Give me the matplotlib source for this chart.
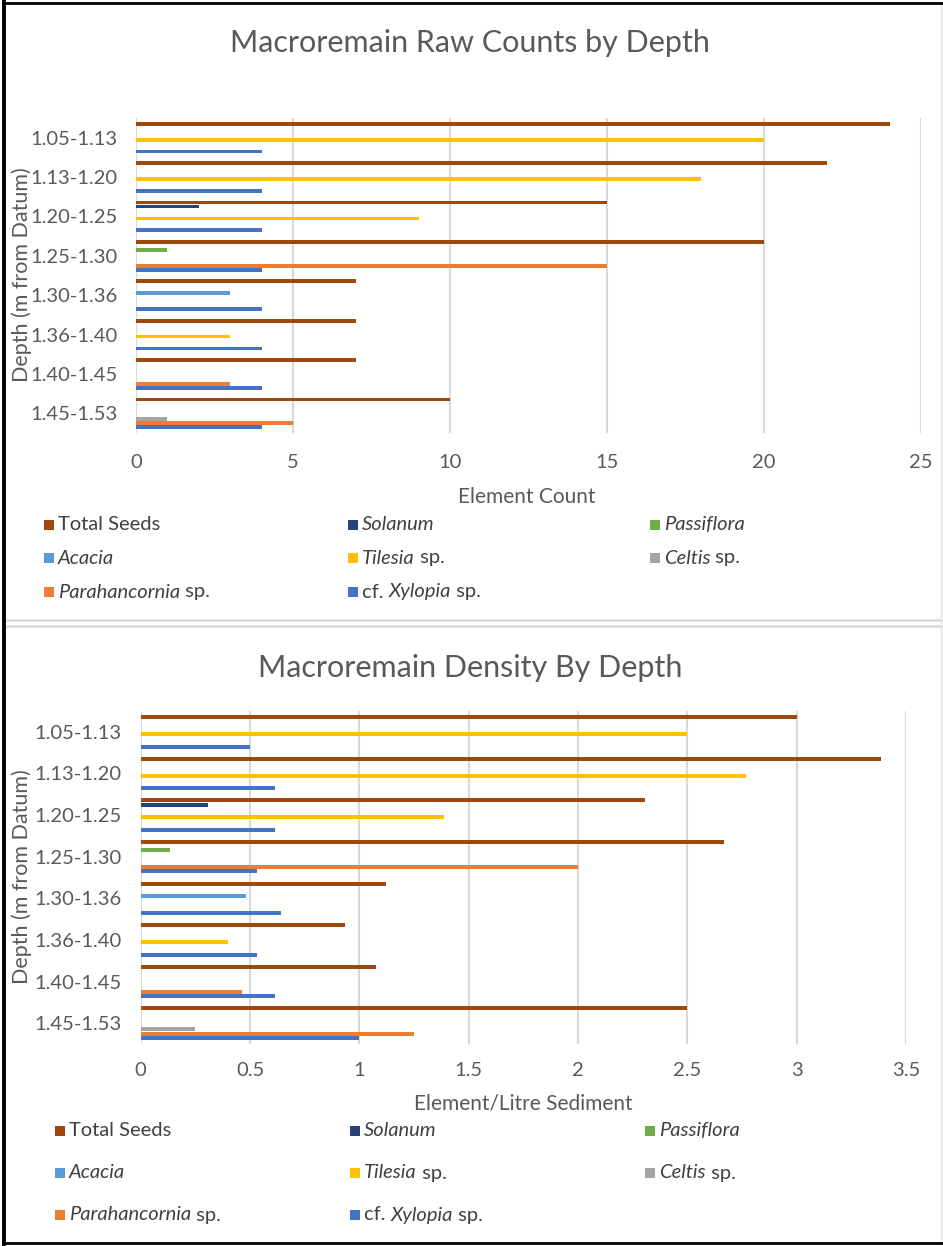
import matplotlib
matplotlib.use("Agg")
import matplotlib.pyplot as plt
from matplotlib.patches import Rectangle
from matplotlib.lines import Line2D

# ---------------------------------------------------------------- data
depths = ["1.05-1.13", "1.13-1.20", "1.20-1.25", "1.25-1.30",
          "1.30-1.36", "1.36-1.40", "1.40-1.45", "1.45-1.53"]

series_keys = ["total", "solanum", "passiflora", "acacia",
               "tilesia", "celtis", "parahancornia", "xylopia"]

# legend text as (text, italic) runs
legend_runs = {
    "total": [("Total Seeds", False)],
    "solanum": [("Solanum", True)],
    "passiflora": [("Passiflora", True)],
    "acacia": [("Acacia", True)],
    "tilesia": [("Tilesia", True), (" sp.", False)],
    "celtis": [("Celtis", True), (" sp.", False)],
    "parahancornia": [("Parahancornia", True), (" sp.", False)],
    "xylopia": [("cf. ", False), ("Xylopia", True), (" sp.", False)],
}

colors = {
    "total": "#9E480E",
    "solanum": "#264478",
    "passiflora": "#70AD47",
    "acacia": "#5B9BD5",
    "tilesia": "#FFC000",
    "celtis": "#A5A5A5",
    "parahancornia": "#ED7D31",
    "xylopia": "#4472C4",
}

# raw element counts per depth interval
count_total = [24, 22, 15, 20, 7, 7, 7, 10]
count_solanum = [0, 0, 2, 0, 0, 0, 0, 0]
count_passiflora = [0, 0, 0, 1, 0, 0, 0, 0]
count_acacia = [0, 0, 0, 0, 3, 0, 0, 0]
count_tilesia = [20, 18, 9, 0, 0, 3, 0, 0]
count_celtis = [0, 0, 0, 0, 0, 0, 0, 1]
count_parahancornia = [0, 0, 0, 15, 0, 0, 3, 5]
count_xylopia = [4, 4, 4, 4, 4, 4, 4, 4]

# elements per litre of sediment
dens_total = [3.0, 3.385, 2.308, 2.667, 1.12, 0.933, 1.077, 2.5]
dens_solanum = [0, 0, 0.308, 0, 0, 0, 0, 0]
dens_passiflora = [0, 0, 0, 0.133, 0, 0, 0, 0]
dens_acacia = [0, 0, 0, 0, 0.48, 0, 0, 0]
dens_tilesia = [2.5, 2.769, 1.385, 0, 0, 0.4, 0, 0]
dens_celtis = [0, 0, 0, 0, 0, 0, 0, 0.25]
dens_parahancornia = [0, 0, 0, 2.0, 0, 0, 0.462, 1.25]
dens_xylopia = [0.5, 0.615, 0.615, 0.533, 0.64, 0.533, 0.615, 1.0]

count_ticks = [0, 5, 10, 15, 20, 25]
count_ticklabels = ["0", "5", "10", "15", "20", "25"]
dens_ticks = [0, 0.5, 1, 1.5, 2, 2.5, 3, 3.5]
dens_ticklabels = ["0", "0.5", "1", "1.5", "2", "2.5", "3", "3.5"]

counts = dict(zip(series_keys, [count_total, count_solanum, count_passiflora,
                                count_acacia, count_tilesia, count_celtis,
                                count_parahancornia, count_xylopia]))
density = dict(zip(series_keys, [dens_total, dens_solanum, dens_passiflora,
                                 dens_acacia, dens_tilesia, dens_celtis,
                                 dens_parahancornia, dens_xylopia]))

# ---------------------------------------------------------------- style
FONT = "Lato"
plt.rcParams["font.family"] = [FONT, "DejaVu Sans"]
TXT = "#595959"
GRID = "#D9D9D9"

W, H = 943, 1246
fig = plt.figure(figsize=(W / 100, H / 100), dpi=100)
fig.patch.set_facecolor("white")


def fx(px):
    return px / W


def fy(py):
    return 1 - py / H


def add_axes_px(left, top, right, bottom):
    return fig.add_axes([fx(left), fy(bottom), (right - left) / W, (bottom - top) / H])


def draw_chart(ax, data, ticks, ticklabels, ylab_pad, xlab_pad):
    n = len(series_keys)
    slot = 0.101
    for j, key in enumerate(series_keys):
        ypos = [i + (j - (n - 1) / 2) * slot for i in range(len(depths))]
        ax.barh(ypos, data[key], height=slot * 0.95, color=colors[key],
                linewidth=0, zorder=3)
    ax.set_ylim(len(depths) - 0.5, -0.5)
    ax.set_xlim(ticks[0], ticks[-1])
    ax.set_yticks(range(len(depths)))
    ax.set_yticklabels(depths)
    ax.set_xticks(ticks)
    ax.set_xticklabels(ticklabels)
    ax.tick_params(axis="both", length=0, labelsize=14.5, labelcolor=TXT)
    ax.tick_params(axis="y", pad=ylab_pad)
    ax.tick_params(axis="x", pad=xlab_pad)
    for s in ax.spines.values():
        s.set_visible(False)
    ax.grid(axis="x", color=GRID, linewidth=1.5, zorder=0)
    ax.set_axisbelow(True)


renderer = fig.canvas.get_renderer()


def draw_runs(x, y, runs, size=14.5):
    for text, italic in runs:
        t = fig.text(fx(x), fy(y), text, fontsize=size, color="#404040",
                     style="italic" if italic else "normal",
                     ha="left", va="center", family=[FONT, "DejaVu Sans"])
        bb = t.get_window_extent(renderer=renderer)
        x += bb.width


def draw_legend(col_x, row_y):
    for k, key in enumerate(series_keys):
        r, c = divmod(k, 3)
        x0, y0 = col_x[c], row_y[r]
        fig.patches.append(Rectangle((fx(x0), fy(y0 + 5)), 10 / W, 10 / H,
                                     transform=fig.transFigure,
                                     facecolor=colors[key], edgecolor="none"))
        draw_runs(x0 + 14, y0, legend_runs[key])


# ---------------------------------------------------------------- top chart
ax1 = add_axes_px(136, 118, 921, 433)
draw_chart(ax1, counts, count_ticks, count_ticklabels, ylab_pad=13, xlab_pad=15)
fig.text(fx(470), fy(43), "Macroremain Raw Counts by Depth", fontsize=22,
         color=TXT, ha="center", va="center")
fig.text(fx(527), fy(497), "Element Count", fontsize=15, color=TXT,
         ha="center", va="center")
fig.text(fx(22), fy(275), "Depth (m from Datum)", fontsize=15.5, color=TXT,
         ha="center", va="center", rotation=90)
draw_legend([44, 348, 650], [525, 558, 592])

# ---------------------------------------------------------------- bottom chart
ax2 = add_axes_px(140.7, 711, 906, 1044)
draw_chart(ax2, density, dens_ticks, dens_ticklabels, ylab_pad=14, xlab_pad=13)
fig.text(fx(470), fy(668), "Macroremain Density By Depth", fontsize=22,
         color=TXT, ha="center", va="center")
fig.text(fx(523), fy(1103), "Element/Litre Sediment", fontsize=15, color=TXT,
         ha="center", va="center")
fig.text(fx(22), fy(877), "Depth (m from Datum)", fontsize=15.5, color=TXT,
         ha="center", va="center", rotation=90)
draw_legend([55, 350, 645], [1131, 1173, 1215])

# ---------------------------------------------------------------- frame
for yy in (620, 626):
    fig.add_artist(Line2D([fx(6), 1], [fy(yy), fy(yy)], color="#D9D9D9",
                          linewidth=1.8, transform=fig.transFigure))
fig.add_artist(Line2D([fx(941), fx(941)], [fy(4), fy(1242)], color="#E6E6E6",
                      linewidth=1.0, transform=fig.transFigure))
fig.add_artist(Line2D([fx(4), fx(4)], [fy(2), fy(1244)], color="black",
                      linewidth=2.8, transform=fig.transFigure))
fig.add_artist(Line2D([fx(3), 1], [fy(3), fy(3)], color="black",
                      linewidth=2.0, transform=fig.transFigure))
fig.add_artist(Line2D([fx(3), 1], [fy(1243), fy(1243)], color="black",
                      linewidth=2.0, transform=fig.transFigure))

fig.savefig("out.png", dpi=100, facecolor="white")
